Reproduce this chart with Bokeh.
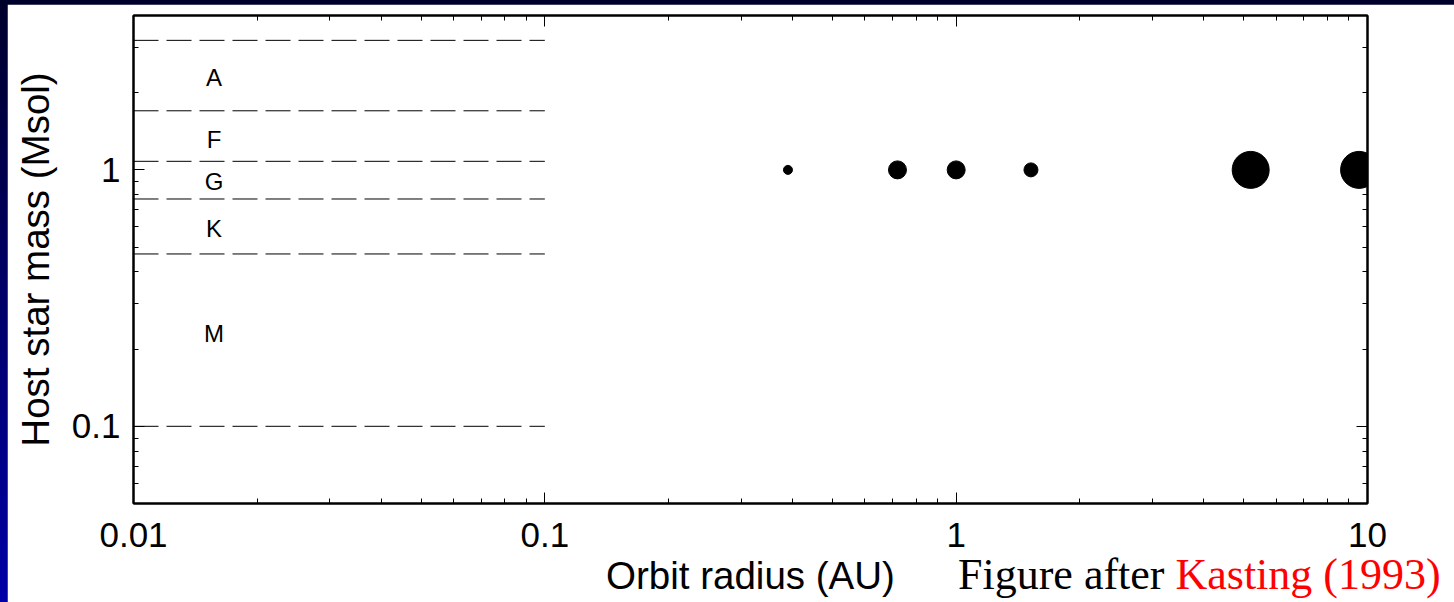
from bokeh.plotting import figure
from bokeh.models import (Range1d, LogAxis, FixedTicker, CustomJSTickFormatter,
                          ColumnDataSource, Div)
from bokeh.layouts import column
from bokeh.core.properties import value
from bokeh.embed import file_html
from bokeh.resources import INLINE

# Solar-system planets: orbit radius (AU) and host star mass (solar masses)
planets = ["Mercury", "Venus", "Earth", "Mars", "Jupiter", "Saturn"]
orbit_au = [0.39, 0.72, 1.0, 1.52, 5.2, 9.54]
host_mass = [1.0, 1.0, 1.0, 1.0, 1.0, 1.0]

# Stellar spectral classes: boundaries (Msol) and the label placed in each band
class_bounds = [3.2, 1.7, 1.08, 0.77, 0.47, 0.1]
class_names = ["A", "F", "G", "K", "M"]
class_label_mass = [2.3, 1.31, 0.9, 0.59, 0.23]

x_ticks = [0.01, 0.1, 1, 10]
y_ticks = [0.1, 1]

# marker diameters in pixels
dot_px = [9, 18, 18, 14, 37, 37]

SANS = "Liberation Sans"
SERIF = "Liberation Serif"

p = figure(width=1447, height=598, margin=(4, 0, 0, 7),
           x_axis_type="log", y_axis_type="log",
           x_range=Range1d(0.01, 10), y_range=Range1d(0.05, 4.0),
           output_backend="svg", toolbar_location=None,
           min_border_left=126, min_border_right=87,
           min_border_top=11, min_border_bottom=99,
           background_fill_color="white", border_fill_color="white")
p.outline_line_color = "black"
p.outline_line_width = 2
p.xgrid.visible = False
p.ygrid.visible = False

x_minor = [k * 10.0 ** e for e in (-2, -1, 0) for k in range(2, 10)]
y_minor = [k * 10.0 ** e for e in (-2, -1, 0) for k in range(2, 10)
           if 0.05 < k * 10.0 ** e < 4.0]
xt = FixedTicker(ticks=x_ticks, minor_ticks=x_minor)
yt = FixedTicker(ticks=y_ticks, minor_ticks=y_minor)
fmt = CustomJSTickFormatter(code="return tick.toString();")


def style_axis(ax, labels=True):
    ax.axis_line_color = "black"
    ax.axis_line_width = 2
    ax.major_tick_line_color = "black"
    ax.minor_tick_line_color = "black"
    ax.major_tick_line_width = 1
    ax.minor_tick_line_width = 1
    ax.major_tick_in = 11
    ax.major_tick_out = 0
    ax.minor_tick_in = 5
    ax.minor_tick_out = 0
    if labels:
        ax.formatter = fmt
        ax.major_label_text_font = SANS
        ax.major_label_text_font_size = "35px"
        ax.major_label_text_color = "black"
        ax.axis_label_text_font = SANS
        ax.axis_label_text_font_size = "38.5px"
        ax.axis_label_text_font_style = "normal"
        ax.axis_label_text_color = "black"
    else:
        ax.formatter = CustomJSTickFormatter(code="return '';")
        ax.major_label_text_font_size = "0px"
        ax.major_label_standoff = 0


xa = p.xaxis[0]
ya = p.yaxis[0]
xa.ticker = xt
ya.ticker = yt
style_axis(xa)
style_axis(ya)
xa.axis_label = "Orbit radius (AU)"
ya.axis_label = "Host star mass (Msol)"
xa.major_label_standoff = 19
xa.axis_label_standoff = 4
ya.major_label_standoff = 13
ya.axis_label_standoff = 12

top = LogAxis(ticker=xt)
right = LogAxis(ticker=yt)
style_axis(top, labels=False)
style_axis(right, labels=False)
p.add_layout(top, "above")
p.add_layout(right, "right")

# spectral class boundaries over the inner region
bands = ColumnDataSource(dict(
    x0=[0.01] * len(class_bounds), x1=[0.1] * len(class_bounds),
    y=class_bounds))
p.segment(x0="x0", y0="y", x1="x1", y1="y", source=bands,
          line_color="black", line_width=1, line_dash="25 8")

labels = ColumnDataSource(dict(x=[0.0157] * len(class_names),
                               y=class_label_mass, t=class_names))
p.text(x="x", y="y", text="t", source=labels,
       text_font=value(SANS), text_font_size="24px",
       text_align="center", text_baseline="middle", text_color="black")

# planets
pts = ColumnDataSource(dict(x=orbit_au, y=host_mass, s=dot_px, name=planets))
p.scatter(x="x", y="y", size="s", source=pts,
          fill_color="black", line_color="black", marker="circle")

# credit line laid over the bottom-right corner of the figure
credit = Div(
    text='<span style="color:#000000">Figure after </span>'
         '<span style="color:#ff0000">Kasting (1993)</span>',
    width=496, height=49, margin=(-49, 0, 0, 958),
    styles={"font-family": SERIF, "font-size": "44px", "line-height": "44px",
            "white-space": "nowrap", "padding": "0", "overflow": "visible",
            "background": "transparent"})

page = column(p, credit, width=1454, height=602,
              styles={"background": "linear-gradient(#00002c, #0000a6)"})

open("out.html", "w").write(file_html(page, INLINE))
